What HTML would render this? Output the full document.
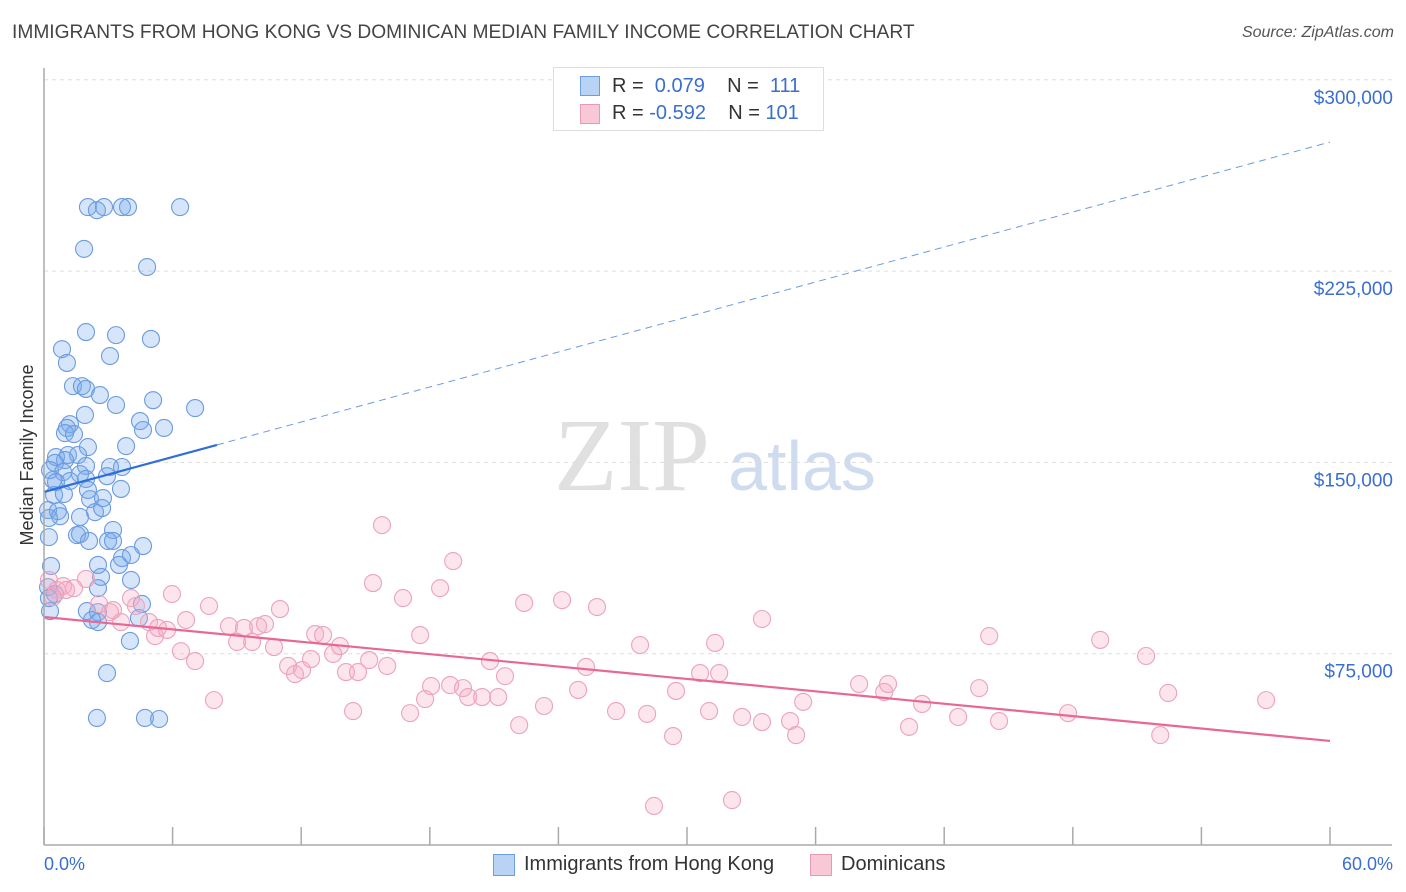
<!DOCTYPE html>
<html><head><meta charset="utf-8"><style>
body{margin:0;background:#fff;font-family:"Liberation Sans",sans-serif;}
#wrap{position:relative;width:1406px;height:892px;overflow:hidden;}
.t{position:absolute;white-space:nowrap;}
</style></head><body>
<div id="wrap">
<div class="t" style="left:12px;top:22px;font-size:19.2px;color:#444;">IMMIGRANTS FROM HONG KONG VS DOMINICAN MEDIAN FAMILY INCOME CORRELATION CHART</div>
<div class="t" style="right:12px;top:24px;font-size:16px;color:#555;font-style:italic;">Source: ZipAtlas.com</div>
<svg id="svg" width="1406" height="892" style="position:absolute;left:0;top:0">
<text x="632" y="490" font-size="104" font-family="Liberation Serif" fill="#e0e0e0" text-anchor="middle">ZIP</text>
<text x="802" y="490" font-size="70" font-family="Liberation Sans" fill="#cfdcf0" text-anchor="middle">atlas</text>
<g id="grid"></g><g id="pts"></g><g id="lines"></g>
<line x1="44" y1="68" x2="44" y2="845" stroke="#aaa" stroke-width="1.5"/>
<line x1="44" y1="845" x2="1392" y2="845" stroke="#aaa" stroke-width="1.5"/>
<text x="33" y="455" font-size="18" fill="#333" text-anchor="middle" transform="rotate(-90 33 455)">Median Family Income</text>
<text x="44" y="870" font-size="18" fill="#3a6fd0">0.0%</text>
<text x="1393" y="870" font-size="18" fill="#3a6fd0" text-anchor="end">60.0%</text>
</svg>
<div style="position:absolute;left:553px;top:67px;width:269px;height:62px;border:1px solid #ddd;background:#fff;">
<div style="position:absolute;left:26px;top:8px;width:18px;height:18px;background:#b9d3f5;border:1px solid #6c9ee0;"></div>
<div class="t" style="left:58px;top:7px;font-size:20px;color:#333;">R = <span style="color:#3a6fd0">&nbsp;0.079</span>&nbsp;&nbsp;&nbsp; N = <span style="color:#3a6fd0">&nbsp;111</span></div>
<div style="position:absolute;left:26px;top:36px;width:18px;height:18px;background:#f8c8d7;border:1px solid #e99ab3;"></div>
<div class="t" style="left:58px;top:34px;font-size:20px;color:#333;">R = <span style="color:#3a6fd0">-0.592</span>&nbsp;&nbsp;&nbsp; N = <span style="color:#3a6fd0">101</span></div>
</div>
<div style="position:absolute;left:493px;top:854px;width:20px;height:20px;background:#b9d3f5;border:1px solid #6c9ee0;"></div>
<div class="t" style="left:524px;top:853px;font-size:20px;color:#333;">Immigrants from Hong Kong</div>
<div style="position:absolute;left:810px;top:854px;width:20px;height:20px;background:#f8c8d7;border:1px solid #e99ab3;"></div>
<div class="t" style="left:841px;top:853px;font-size:20px;color:#333;">Dominicans</div>
</div>
<script>
const blueX=[2.05,2.47,2.8,3.64,3.92,6.35,1.87,4.81,1.96,3.36,4.99,0.84,3.08,1.07,1.35,1.77,1.96,2.61,3.36,5.09,7.05,1.91,4.48,1.21,1.07,4.62,5.6,0.98,1.4,2.05,3.83,0.56,1.12,1.59,0.98,0.51,1.96,3.08,3.64,0.28,0.89,1.68,2.94,0.42,1.21,1.96,0.56,3.59,2.05,0.47,0.93,2.15,2.75,0.19,0.65,2.38,2.71,0.75,0.23,1.68,3.22,0.23,1.54,1.68,2.1,2.99,3.22,4.62,3.64,4.06,2.52,0.33,3.5,2.66,4.06,0.19,2.52,0.51,0.23,4.57,0.28,2.0,2.52,2.52,2.24,4.43,4.01,2.94,2.47,4.71,5.37];
const blueY=[250.1,248.9,250.1,250.1,250.1,250.1,233.7,226.6,201.1,199.9,198.4,194.4,191.7,189,179.9,179.9,178.8,176.4,172.5,174.4,171.3,168.6,166.2,165,163.5,162.7,163.5,161.5,161.1,156,156.4,152.1,152.9,152.9,150.9,149.8,148.6,148.2,148.2,147,146.2,145.4,144.6,143.1,142.7,143.5,142.3,139.6,139.2,137.2,137.6,135.6,136,131.3,130.9,130.5,132.1,128.9,128.2,128.6,123.5,120.7,121.5,121.9,119.2,119.2,119.2,117.2,112.5,113.7,109.8,109.4,109.8,105.1,103.9,101.1,100.7,98.4,96.8,94.5,91.7,91.7,91.3,87.4,88.2,89,80,67.4,49.8,49.8,49.4];
const pinkX=[0.23,0.61,0.89,1.03,1.4,1.96,0.42,2.57,3.08,3.22,4.06,4.29,3.59,4.9,5.18,5.32,5.74,5.97,6.39,6.63,7.05,7.7,7.93,8.63,9.01,9.33,9.71,9.99,10.31,10.73,11.01,11.39,11.71,12.04,12.46,12.65,13.02,13.49,13.81,14.09,14.42,14.65,15.17,15.35,15.77,16.01,16.75,17.08,17.55,17.78,18.06,18.48,18.95,19.09,19.55,19.79,20.44,20.81,21.19,21.51,22.17,22.4,23.33,24.17,24.92,25.29,25.8,26.69,27.81,28.14,28.46,29.35,29.49,30.61,31.03,31.31,31.5,32.1,32.57,33.5,33.5,34.81,35.09,35.42,38.03,39.2,39.38,40.36,40.97,42.65,43.63,44.1,44.56,47.78,49.28,51.42,52.08,52.45,57.02];
const pinkY=[103.9,100,101.5,100,100.7,104.3,97.2,94.5,91.3,92.1,96.8,93.7,87.4,87.4,81.9,85.1,84.3,98.4,76,88.2,72.1,93.7,56.8,85.8,79.6,85.1,79.6,85.8,86.6,77.6,92.5,70.2,67,68.6,72.9,82.7,82.3,74.9,78,67.8,52.5,67.8,72.5,102.7,125.4,70.2,96.8,51.7,82.3,57.2,62.3,100.7,62.7,111.3,61.5,58,58,72.1,58,66.2,47,94.9,54.5,96,60.8,69.8,93.3,52.5,78.4,51.4,15.3,42.7,60.4,67.4,52.5,79.2,67.4,17.6,50.2,48.2,88.6,48.6,43.1,56.1,63.1,60,63.1,46.3,55.3,50.2,61.5,81.9,48.6,51.7,80.4,74.1,43.1,59.6,56.8];
const yTicks=[75,150,225,300];
const yTickLabels=["$75,000","$150,000","$225,000","$300,000"];
const xTicks=[0,6,12,18,24,30,36,42,48,54,60];
const blueTrend=[138.4,275.6], blueSolidEnd=8.07;
const pinkTrend=[89.4,40.8];
const X=p=>44+p/60*1286, Y=v=>845-v/75*191.3;
const NS="http://www.w3.org/2000/svg";
function mk(tag,at,parent){const e=document.createElementNS(NS,tag);for(const k in at)e.setAttribute(k,at[k]);parent.appendChild(e);return e;}
const grid=document.getElementById('grid'),pts=document.getElementById('pts'),lines=document.getElementById('lines'),svg=document.getElementById('svg');
yTicks.forEach((v,i)=>{
 const l=mk('line',{x1:44,x2:1392,y1:Y(v),y2:Y(v),stroke:'#ddd','stroke-dasharray':'4,4'},grid);
 
 
 const t=mk('text',{x:1393,y:Y(v)+24,'font-size':19,fill:'#3a6fd0','text-anchor':'end'},svg);
 t.textContent=yTickLabels[i];
 
 
});
xTicks.forEach(p=>{
 const l=mk('line',{x1:X(p),x2:X(p),y1:827,y2:845,stroke:'#aaa','stroke-width':1.5},grid);
 
 
});
blueX.forEach((p,i)=>{
 const c=mk('circle',{cx:X(p),cy:Y(blueY[i]),r:8.5,fill:'rgba(120,170,235,0.3)',stroke:'#6b9be0','stroke-width':1.1},pts);
 
 
});
pinkX.forEach((p,i)=>{
 const c=mk('circle',{cx:X(p),cy:Y(pinkY[i]),r:8.5,fill:'rgba(245,170,195,0.3)',stroke:'#eca3ba','stroke-width':1.1},pts);
 
 
});
const bAt=p=>blueTrend[0]+(blueTrend[1]-blueTrend[0])*p/60;
const b1=mk('line',{x1:X(0),y1:Y(bAt(0)),x2:X(blueSolidEnd),y2:Y(bAt(blueSolidEnd)),stroke:'#2f6fd6','stroke-width':2.2},lines);


const b2=mk('line',{x1:X(blueSolidEnd),y1:Y(bAt(blueSolidEnd)),x2:X(60),y2:Y(bAt(60)),stroke:'#6b9be0','stroke-width':1,'stroke-dasharray':'7,5'},lines);


const pl=mk('line',{x1:X(0),y1:Y(pinkTrend[0]),x2:X(60),y2:Y(pinkTrend[1]),stroke:'#e76795','stroke-width':2.2},lines);


</script>
</body></html>
